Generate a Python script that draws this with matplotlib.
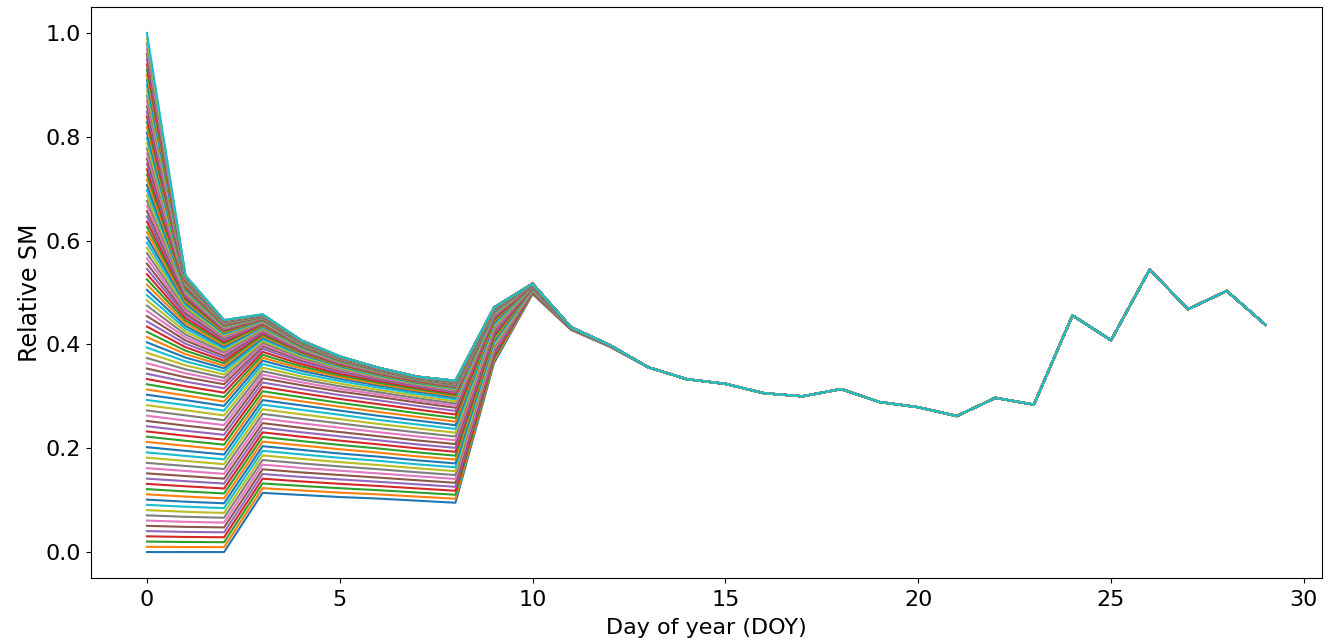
import numpy as np
import matplotlib
matplotlib.use("Agg")
import matplotlib.pyplot as plt

# number of model runs, each starting from a different initial relative SM
n_runs = 100
init_sm = np.linspace(0, 1, n_runs)

# reference runs (initial SM -> values for DOY 0..12)
ref_init = [0.00, 0.05, 0.10, 0.15, 0.20, 0.25, 0.30, 0.35, 0.40, 0.45, 0.50,
            0.55, 0.60, 0.65, 0.70, 0.75, 0.80, 0.85, 0.90, 0.95, 1.00]
ref_sm = [
    [0.000, 0.000, 0.000, 0.114, 0.110, 0.106, 0.103, 0.099, 0.095, 0.364, 0.497, 0.428, 0.396],
    [0.050, 0.048, 0.047, 0.159, 0.153, 0.148, 0.143, 0.138, 0.133, 0.386, 0.503, 0.429, 0.396],
    [0.100, 0.096, 0.093, 0.203, 0.196, 0.189, 0.183, 0.176, 0.170, 0.406, 0.508, 0.430, 0.397],
    [0.150, 0.145, 0.140, 0.247, 0.238, 0.230, 0.222, 0.214, 0.207, 0.425, 0.511, 0.430, 0.397],
    [0.200, 0.193, 0.186, 0.291, 0.281, 0.271, 0.261, 0.252, 0.243, 0.441, 0.513, 0.431, 0.397],
    [0.250, 0.241, 0.233, 0.333, 0.320, 0.308, 0.298, 0.287, 0.277, 0.454, 0.515, 0.431, 0.398],
    [0.300, 0.290, 0.279, 0.367, 0.348, 0.333, 0.320, 0.308, 0.297, 0.462, 0.516, 0.432, 0.398],
    [0.350, 0.334, 0.321, 0.395, 0.369, 0.349, 0.334, 0.321, 0.309, 0.465, 0.516, 0.432, 0.398],
    [0.400, 0.372, 0.352, 0.412, 0.381, 0.358, 0.341, 0.326, 0.316, 0.467, 0.517, 0.432, 0.398],
    [0.450, 0.405, 0.376, 0.425, 0.389, 0.364, 0.346, 0.331, 0.320, 0.469, 0.517, 0.433, 0.399],
    [0.500, 0.433, 0.394, 0.434, 0.395, 0.368, 0.349, 0.333, 0.322, 0.470, 0.517, 0.433, 0.399],
    [0.550, 0.458, 0.410, 0.441, 0.399, 0.371, 0.351, 0.335, 0.324, 0.470, 0.517, 0.433, 0.399],
    [0.600, 0.478, 0.421, 0.446, 0.402, 0.373, 0.352, 0.336, 0.325, 0.471, 0.517, 0.433, 0.399],
    [0.650, 0.494, 0.429, 0.450, 0.404, 0.374, 0.353, 0.337, 0.326, 0.471, 0.517, 0.433, 0.399],
    [0.700, 0.505, 0.435, 0.452, 0.405, 0.375, 0.354, 0.337, 0.327, 0.471, 0.517, 0.433, 0.399],
    [0.750, 0.513, 0.439, 0.454, 0.406, 0.376, 0.354, 0.338, 0.328, 0.471, 0.517, 0.433, 0.399],
    [0.800, 0.519, 0.442, 0.455, 0.407, 0.376, 0.355, 0.338, 0.329, 0.471, 0.517, 0.433, 0.399],
    [0.850, 0.524, 0.444, 0.456, 0.407, 0.376, 0.355, 0.338, 0.329, 0.471, 0.517, 0.433, 0.399],
    [0.900, 0.528, 0.445, 0.457, 0.408, 0.377, 0.355, 0.338, 0.330, 0.471, 0.517, 0.433, 0.399],
    [0.950, 0.531, 0.446, 0.457, 0.408, 0.377, 0.355, 0.338, 0.330, 0.471, 0.517, 0.433, 0.399],
    [1.000, 0.533, 0.447, 0.458, 0.408, 0.377, 0.355, 0.338, 0.330, 0.471, 0.517, 0.433, 0.399],
]

# after DOY 12 every run follows the same path (DOY 13..29)
tail_sm = [0.356, 0.333, 0.324, 0.306, 0.300, 0.314, 0.289, 0.279, 0.262,
           0.297, 0.284, 0.456, 0.408, 0.544, 0.468, 0.503, 0.438]

ref_sm = np.array(ref_sm)
n_head = ref_sm.shape[1]
days = np.arange(n_head + len(tail_sm))

fig = plt.figure(figsize=(13.32, 6.41), dpi=100)
ax = fig.add_axes([91 / 1332, 63 / 641, 1231 / 1332, 571 / 641])

for v in init_sm:
    head = [np.interp(v, ref_init, ref_sm[:, d]) for d in range(n_head)]
    ax.plot(days, head + tail_sm)

ax.set_xlim(-1.45, 30.47)
ax.set_ylim(-0.05, 1.05)
ax.set_xlabel('Day of year (DOY)', fontsize=16, labelpad=6)
ax.set_ylabel('Relative SM', fontsize=17, labelpad=3)
ax.tick_params(labelsize=16)
ax.tick_params(axis='x', pad=5)

fig.savefig("out.png")
